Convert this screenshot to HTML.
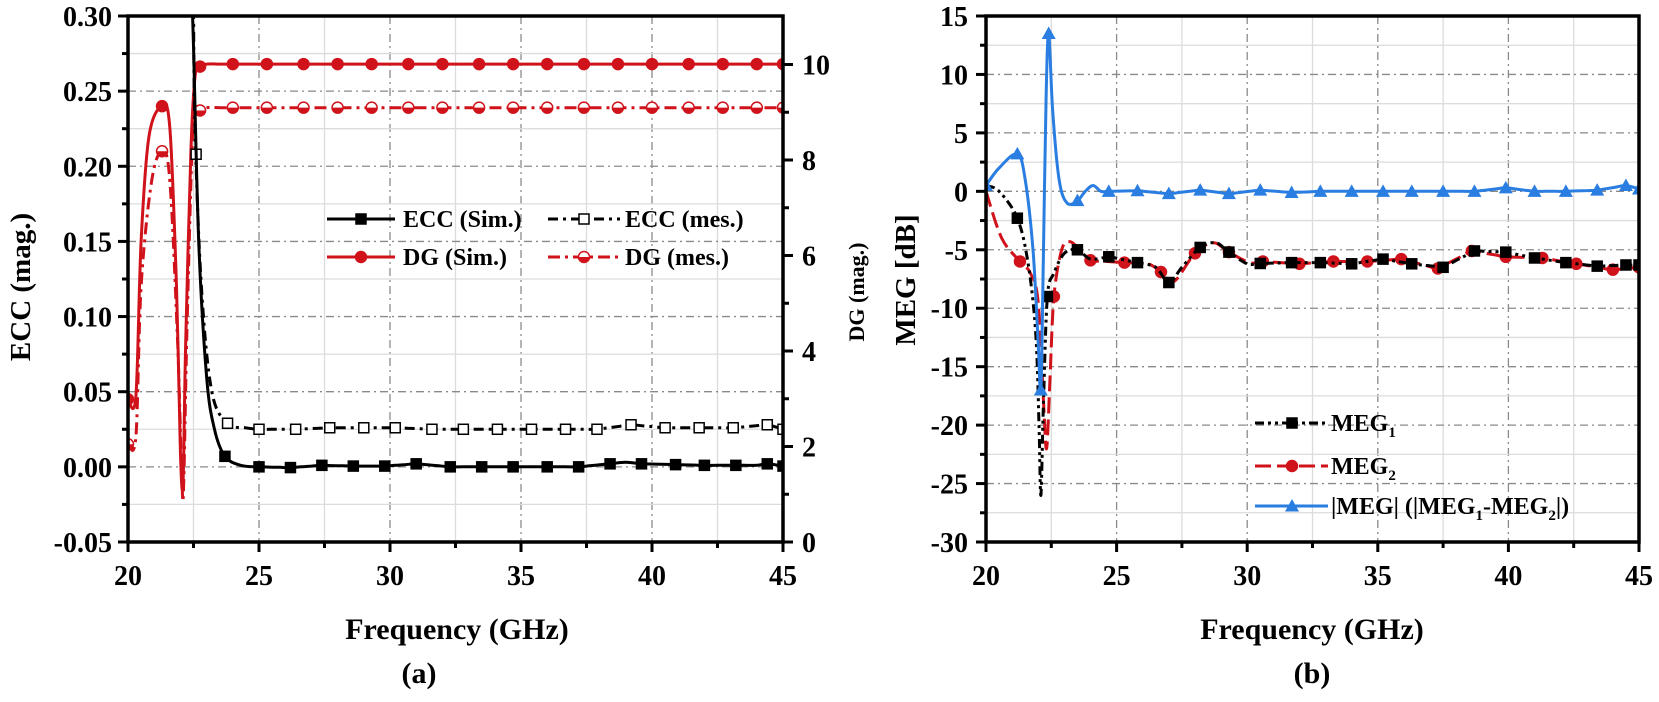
<!DOCTYPE html>
<html><head><meta charset="utf-8">
<style>
html,body{margin:0;padding:0;background:#fff;}
svg{display:block;}
svg text{font-family:"Liberation Serif","Times New Roman",serif;font-weight:bold;}
</style></head>
<body>
<svg id="s" width="1659" height="702" viewBox="0 0 1659 702" xmlns="http://www.w3.org/2000/svg" font-family="Liberation Serif, serif" font-weight="bold">
<defs>
<clipPath id="ca"><rect x="128" y="16" width="655" height="526"/></clipPath>
<clipPath id="cb"><rect x="986" y="16" width="653" height="526"/></clipPath>
</defs>
<g id="g"></g>
<text x="457" y="639" font-size="30" text-anchor="middle">Frequency (GHz)</text>
<text x="419" y="683" font-size="30" text-anchor="middle">(a)</text>
<text x="1312" y="639" font-size="30" text-anchor="middle">Frequency (GHz)</text>
<text x="1312" y="683" font-size="30" text-anchor="middle">(b)</text>
<text transform="translate(30,287) rotate(-90)" font-size="29" text-anchor="middle">ECC (mag.)</text>
<text transform="translate(864,292) rotate(-90)" font-size="22" text-anchor="middle">DG (mag.)</text>
<text transform="translate(915,280) rotate(-90)" font-size="29" text-anchor="middle">MEG [dB]</text>
<text x="403" y="227" font-size="24">ECC (Sim.)</text>
<text x="625" y="227" font-size="24">ECC (mes.)</text>
<text x="403" y="265" font-size="24">DG (Sim.)</text>
<text x="625" y="265" font-size="24">DG (mes.)</text>
<text x="1331" y="431" font-size="24">MEG<tspan font-size="15" dy="6">1</tspan></text>
<text x="1331" y="474" font-size="24">MEG<tspan font-size="15" dy="6">2</tspan></text>
<text x="1331" y="514" font-size="24">|MEG| (|MEG<tspan font-size="15" dy="6">1</tspan><tspan dy="-6">-MEG</tspan><tspan font-size="15" dy="6">2</tspan><tspan dy="-6">|)</tspan></text>
</svg>
<script>
var NS="http://www.w3.org/2000/svg",G=document.getElementById('g');
function el(t,a,p){var e=document.createElementNS(NS,t);for(var k in a)e.setAttribute(k,a[k]);(p||G).appendChild(e);return e;}
function dens(pts){var o=[];for(var i=0;i<pts.length;i++){o.push(pts[i]);if(i<pts.length-1){var g=pts[i+1][0]-pts[i][0];if(g>1){var n=Math.ceil(g/0.5);for(var j=1;j<n;j++){var t=j/n;o.push([pts[i][0]+t*g,pts[i][1]+t*(pts[i+1][1]-pts[i][1])]);}}}}return o;}
function cr(pts){var d="M"+pts[0][0].toFixed(1)+","+pts[0][1].toFixed(1);
for(var i=0;i<pts.length-1;i++){var p0=pts[i-1]||pts[i],p1=pts[i],p2=pts[i+1],p3=pts[i+2]||p2;
var c1=[p1[0]+(p2[0]-p0[0])/6,p1[1]+(p2[1]-p0[1])/6],c2=[p2[0]-(p3[0]-p1[0])/6,p2[1]-(p3[1]-p1[1])/6];
d+="C"+c1[0].toFixed(1)+","+c1[1].toFixed(1)+" "+c2[0].toFixed(1)+","+c2[1].toFixed(1)+" "+p2[0].toFixed(1)+","+p2[1].toFixed(1);}return d;}
function interp(pts,f){for(var i=0;i<pts.length-1;i++){if(f>=pts[i][0]&&f<=pts[i+1][0]){var t=(f-pts[i][0])/(pts[i+1][0]-pts[i][0]);return pts[i][1]+t*(pts[i+1][1]-pts[i][1]);}}return pts[pts.length-1][1];}
var GRAY="#8a8a8a",LG="#dcdcdc",RED="#d0121b",BLUE="#2a7de1";
function marker(type,x,y,col,fill,p){
 if(type=="sq")el("rect",{x:x-5,y:y-5,width:10,height:10,fill:fill,stroke:col,"stroke-width":1.5},p);
 else if(type=="ci")el("circle",{cx:x,cy:y,r:5.5,fill:fill,stroke:col,"stroke-width":1.5},p);
 else if(type=="hc"){el("circle",{cx:x,cy:y,r:5.5,fill:"#fff",stroke:col,"stroke-width":1.5},p);el("path",{d:"M"+(x-5.5)+","+y+"A5.5,5.5 0 0 0 "+(x+5.5)+","+y+"Z",fill:col},p);}
 else if(type=="tr")el("path",{d:"M"+x+","+(y-7)+"L"+(x+7)+","+(y+5.5)+"L"+(x-7)+","+(y+5.5)+"Z",fill:col},p);
}
function series(pts,X,Y,col,dash,mk,mfill,mx,clip){
 var P=dens(pts).map(function(q){return [X(q[0]),Y(q[1])];});
 var a={d:cr(P),fill:"none",stroke:col,"stroke-width":3,"stroke-linejoin":"round"};
 if(dash)a["stroke-dasharray"]=dash;
 var g=el("g",{"clip-path":"url(#"+clip+")"});
 el("path",a,g);
 mx.forEach(function(f){marker(mk,X(f),Y(interp(pts,f)),col,mfill,g);});
}
function axes(x0,x1,y0,y1,X,Y,yt,ymin,ystep){
 for(var f=20;f<=45;f+=2.5){var x=X(f);var maj=(f%5==0);
  if(f>20&&f<45)el("line",{x1:x,x2:x,y1:y0,y2:y1,stroke:maj?GRAY:LG,"stroke-width":1.3,"stroke-dasharray":maj?"8,4,2,4":"none"});}
 yt.forEach(function(v,i){var y=Y(v);if(i>0&&i<yt.length-1)el("line",{x1:x0,x2:x1,y1:y,y2:y,stroke:GRAY,"stroke-width":1.3,"stroke-dasharray":"8,4,2,4"});
  if(i<yt.length-1){var ym=Y(v-ystep/2);el("line",{x1:x0,x2:x1,y1:ym,y2:ym,stroke:LG,"stroke-width":1.3});}});
}
function txt(a,s){var t=el("text",a);t.setAttribute("font-family","Liberation Serif, serif");t.setAttribute("font-weight","bold");t.textContent=s;return t;}
function frame(x0,x1,y0,y1,X,Y,yt,ystep,ytl,lx){
 el("rect",{x:x0,y:y0,width:x1-x0,height:y1-y0,fill:"none",stroke:"#000","stroke-width":3.5});
 for(var f=20;f<=45;f+=2.5){var x=X(f),maj=(f%5==0);el("line",{x1:x,x2:x,y1:y1,y2:y1+(maj?10:6),stroke:"#000","stroke-width":3});
  if(maj)txt({x:x,y:585,"font-size":28,"text-anchor":"middle"},f);}
 yt.forEach(function(v,i){var y=Y(v);el("line",{x1:x0-10,x2:x0,y1:y,y2:y,stroke:"#000","stroke-width":3});
  txt({x:lx,y:y+10,"font-size":28,"text-anchor":"end"},ytl[i]);
  if(i<yt.length-1){var ym=Y(v-ystep/2);el("line",{x1:x0-6,x2:x0,y1:ym,y2:ym,stroke:"#000","stroke-width":3});}});
}
var XA=function(f){return 128+(f-20)*26.2;},YA=function(v){return 16+(0.30-v)*1502.8;};
var ytA=[0.30,0.25,0.20,0.15,0.10,0.05,0.00,-0.05],ytlA=["0.30","0.25","0.20","0.15","0.10","0.05","0.00","-0.05"];
axes(128,783,16,542,XA,YA,ytA,-0.05,0.05);
var dgs=[[20,0.045],[20.3,0.047],[20.5,0.15],[20.8,0.22],[21.3,0.24],[21.6,0.225],[21.85,0.12],[22.0,0.01],[22.1,-0.01],[22.2,0.08],[22.4,0.21],[22.55,0.258],[22.7,0.266],[23,0.268],[45,0.268]];
var dgm=[[20,0.015],[20.3,0.02],[20.5,0.12],[20.9,0.19],[21.3,0.21],[21.6,0.19],[21.9,0.08],[22.05,-0.005],[22.12,-0.015],[22.25,0.09],[22.45,0.215],[22.6,0.236],[23,0.239],[45,0.239]];
var eccs=[[22.42,0.32],[22.5,0.28],[22.7,0.15],[23,0.06],[23.3,0.025],[23.7,0.007],[24.3,0.001],[25,0],[26.2,-0.0005],[27.4,0.001],[28.6,0.0005],[29.8,0.0005],[31,0.002],[32.3,0],[34.7,0],[37.2,0],[38.4,0.002],[39,0.003],[39.6,0.002],[42,0.001],[44,0.001],[44.4,0.002],[45,0.0005]];
var eccm=[[22.5,0.32],[22.55,0.23],[22.8,0.12],[23.2,0.05],[23.8,0.029],[24.5,0.026],[25,0.025],[26.4,0.025],[27.7,0.026],[29,0.026],[30.2,0.026],[31.6,0.025],[32.8,0.025],[35.4,0.025],[37.9,0.025],[39.2,0.028],[40.5,0.026],[43.1,0.026],[44.4,0.028],[45,0.025]];
var mkDG=[22.75,24,25.3,26.7,28,29.3,30.7,32,33.4,34.7,36,37.4,38.7,40,41.4,42.7,44,45];
series(dgs,XA,YA,RED,"",'ci',RED,[20,21.3].concat(mkDG),"ca");
series(dgm,XA,YA,RED,"12,5,3,5",'hc',RED,[20,21.3].concat(mkDG),"ca");
series(eccm,XA,YA,"#000","10,5,3,5",'sq',"#fff",[22.6,23.8,25,26.4,27.7,29,30.2,31.6,32.8,34.1,35.4,36.7,37.9,39.2,40.5,41.8,43.1,44.4,45],"ca");
series(eccs,XA,YA,"#000","",'sq',"#000",[23.7,25,26.2,27.4,28.6,29.8,31,32.3,33.5,34.7,36,37.2,38.4,39.6,40.9,42,43.2,44.4,45],"ca");
frame(128,783,16,542,XA,YA,ytA,0.05,ytlA,112);
for(var d=0;d<=10;d++){var y=542-47.75*d;el("line",{x1:783,x2:783+(d%2?6:10),y1:y,y2:y,stroke:"#000","stroke-width":3});
 if(d%2==0)txt({x:802,y:y+10,"font-size":28},d);}
el("line",{x1:327,x2:395,y1:219,y2:219,stroke:"#000","stroke-width":3});marker('sq',361,219,"#000","#000");
el("line",{x1:548,x2:620,y1:219,y2:219,stroke:"#000","stroke-width":3,"stroke-dasharray":"10,5,3,5"});marker('sq',584,219,"#000","#fff");
el("line",{x1:327,x2:395,y1:257,y2:257,stroke:RED,"stroke-width":3});marker('ci',361,257,RED,RED);
el("line",{x1:548,x2:620,y1:257,y2:257,stroke:RED,"stroke-width":3,"stroke-dasharray":"12,5,3,5"});marker('hc',584,257,RED,RED);
var XB=function(f){return 986+(f-20)*26.12;},YB=function(v){return 16+(15-v)*11.689;};
var ytB=[15,10,5,0,-5,-10,-15,-20,-25,-30],ytlB=["15","10","5","0","-5","-10","-15","-20","-25","-30"];
axes(986,1639,16,542,XB,YB,ytB,-30,5);
var meg2=[[20,0],[20.6,-4],[21.3,-6],[21.7,-7],[22.0,-9.5],[22.2,-18],[22.32,-22],[22.45,-16],[22.6,-9],[22.9,-5],[23.2,-4.3],[23.6,-5],[24,-5.9],[25.3,-6.1],[26.2,-6.2],[26.7,-6.9],[27.2,-7.7],[28,-5.3],[28.7,-4.4],[29.3,-5.2],[30.1,-6.1],[30.6,-6],[32,-6.2],[33.3,-6],[34.6,-6],[35.9,-5.8],[37.3,-6.6],[38.6,-5.1],[39.9,-5.6],[41.3,-5.7],[42.6,-6.2],[44,-6.7],[45,-6.5]];
var meg1=[[20,0.5],[20.5,0],[21.2,-2.3],[21.6,-6],[21.9,-12],[22.03,-20],[22.1,-26],[22.2,-18],[22.35,-9],[22.6,-7],[23,-5.3],[23.5,-5],[24,-5.8],[24.7,-5.6],[25.8,-6.1],[26.5,-6.5],[27,-7.8],[27.5,-6.5],[28.2,-4.8],[28.8,-4.4],[29.3,-5.2],[30,-6.2],[31.7,-6.1],[32.8,-6.1],[34,-6.2],[35.2,-5.8],[36.3,-6.2],[37.5,-6.5],[38.7,-5.1],[39.9,-5.2],[41,-5.7],[42.2,-6.1],[43.4,-6.4],[44.5,-6.3],[45,-6.3]];
var megd=[[20,0.5],[20.5,2],[21.2,3.2],[21.5,1],[21.8,-5],[22.0,-13],[22.1,-17],[22.2,-5],[22.3,8],[22.4,13.5],[22.55,7],[22.8,1],[23.1,-1],[23.5,-0.8],[23.8,0],[24.1,0.5],[24.4,0],[24.7,0],[25.8,0.05],[27,-0.2],[28.2,0.1],[29.3,-0.2],[30.5,0.1],[31.7,-0.1],[32.8,0],[35.2,0],[38.7,0],[39.9,0.3],[41,0],[42.2,0],[43.4,0.1],[44.5,0.5],[45,0.2]];
series(meg2,XB,YB,RED,"16,6",'ci',RED,[21.3,22.6,24,25.3,26.7,28,29.3,30.6,32,33.3,34.6,35.9,37.3,38.6,39.9,41.3,42.6,44,45],"cb");
series(meg1,XB,YB,"#000","9,4,3,4,3,4",'sq',"#000",[21.2,22.35,23.5,24.7,25.8,27,28.2,29.3,30.5,31.7,32.8,34,35.2,36.3,37.5,38.7,39.9,41,42.2,43.4,44.5,45],"cb");
series(megd,XB,YB,BLUE,"",'tr',BLUE,[20,21.2,22.1,22.4,23.5,24.7,25.8,27,28.2,29.3,30.5,31.7,32.8,34,35.2,36.3,37.5,38.7,39.9,41,42.2,43.4,44.5,45],"cb");
frame(986,1639,16,542,XB,YB,ytB,5,ytlB,968);
el("line",{x1:1255,x2:1328,y1:423,y2:423,stroke:"#000","stroke-width":3,"stroke-dasharray":"9,4,3,4,3,4"});marker('sq',1292,423,"#000","#000");
el("line",{x1:1255,x2:1328,y1:466,y2:466,stroke:RED,"stroke-width":3,"stroke-dasharray":"16,6"});marker('ci',1292,466,RED,RED);
el("line",{x1:1255,x2:1328,y1:506,y2:506,stroke:BLUE,"stroke-width":3});marker('tr',1292,506,BLUE,BLUE);
</script>
</body></html>
